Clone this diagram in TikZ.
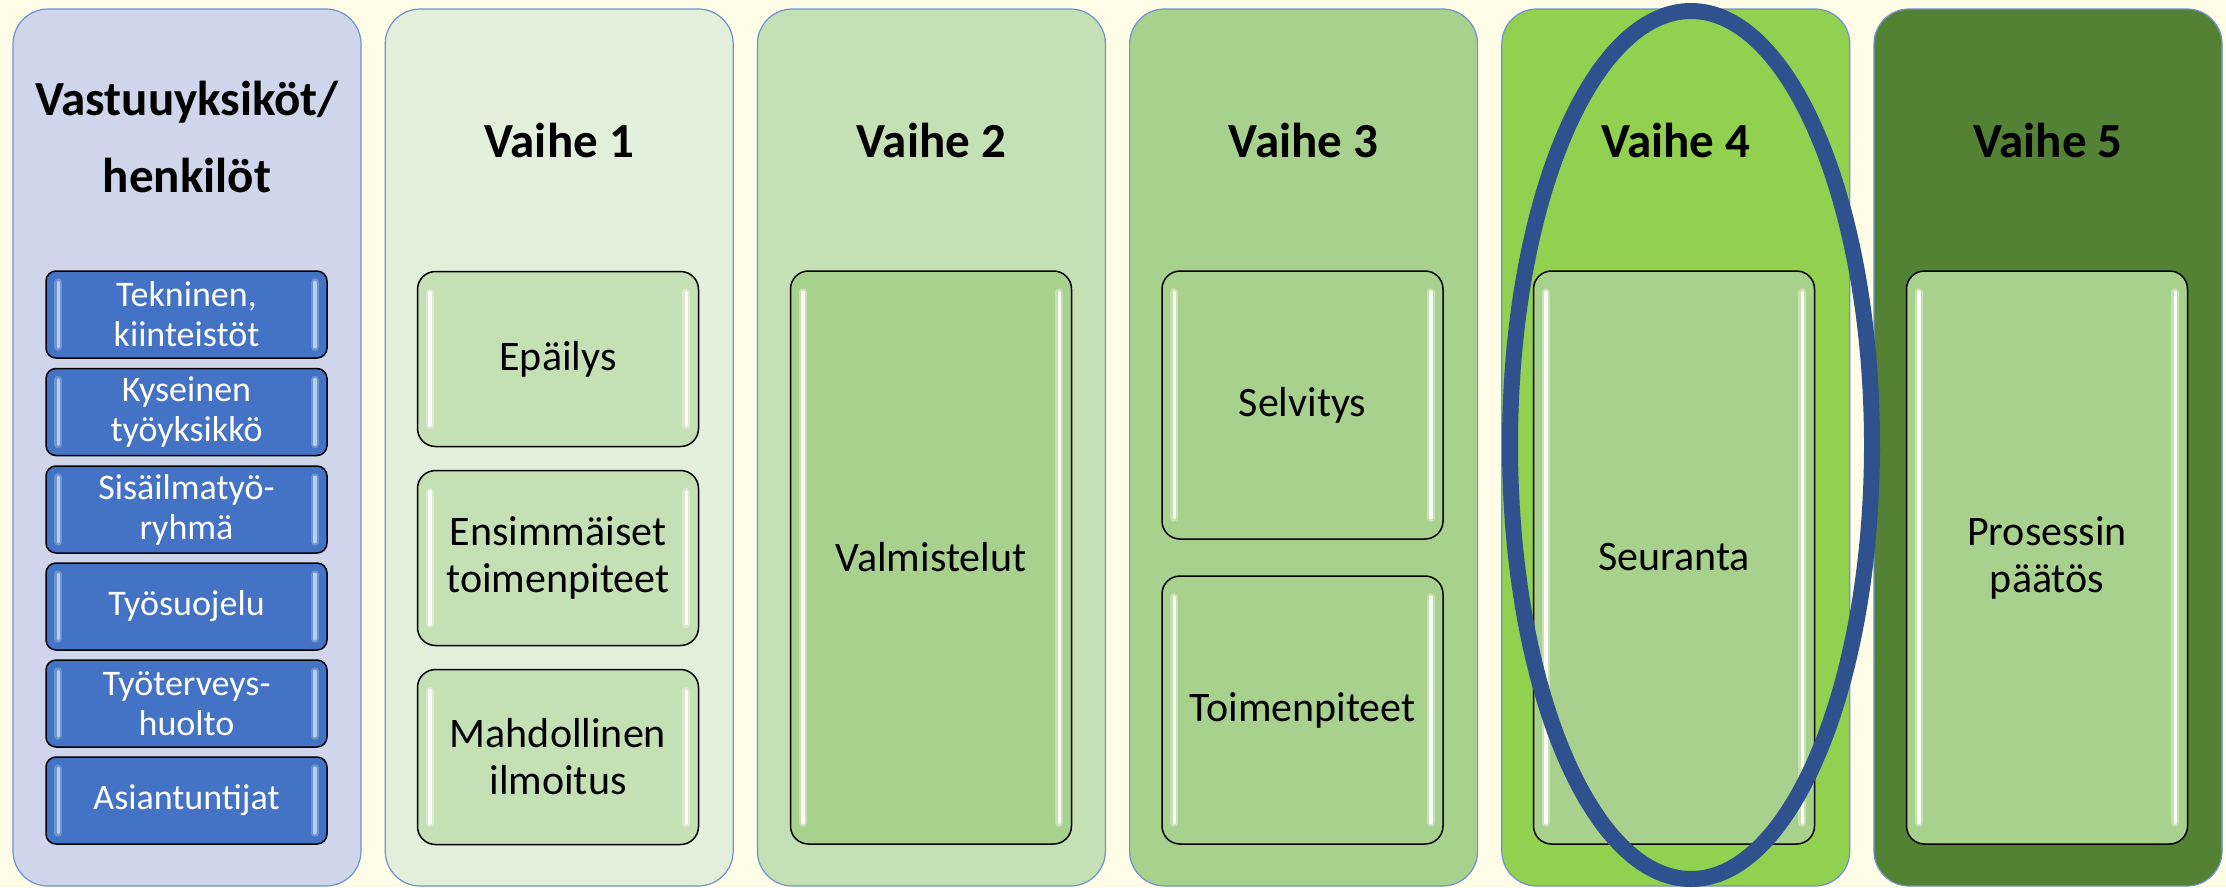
\documentclass[tikz,border=0pt]{standalone}
\usepackage{fontspec}
\setmainfont{Carlito}
\usetikzlibrary{shapes.geometric}
\definecolor{bg}{HTML}{FFFDE8}
\definecolor{colline}{HTML}{6E92CF}
\definecolor{lav}{HTML}{CFD5EA}
\definecolor{g1}{HTML}{E2EFDA}
\definecolor{g2}{HTML}{C5E0B4}
\definecolor{g3}{HTML}{A9D18E}
\definecolor{g4}{HTML}{92D050}
\definecolor{g5}{HTML}{548235}
\definecolor{boxblue}{HTML}{4472C4}
\definecolor{hlblue}{HTML}{BDD7EE}
\definecolor{ellblue}{HTML}{2F528F}
\newcommand\glossy[3]{%
  \draw[line width=8pt, #2, opacity=0.35, line cap=round]
    ([xshift=13pt,yshift=-#3]#1.north west) -- ([xshift=13pt,yshift=#3]#1.south west);
  \draw[line width=3.5pt, #2, opacity=0.9, line cap=round]
    ([xshift=13pt,yshift=-#3]#1.north west) -- ([xshift=13pt,yshift=#3]#1.south west);
  \draw[line width=8pt, #2, opacity=0.35, line cap=round]
    ([xshift=-13pt,yshift=-#3]#1.north east) -- ([xshift=-13pt,yshift=#3]#1.south east);
  \draw[line width=3.5pt, #2, opacity=0.9, line cap=round]
    ([xshift=-13pt,yshift=-#3]#1.north east) -- ([xshift=-13pt,yshift=#3]#1.south east);
}
\begin{document}
\begin{tikzpicture}[x=1pt,y=-1pt,
  colbox/.style={draw=colline, line width=1.2pt, rounded corners=35pt,
    minimum width=348pt, minimum height=877pt, inner sep=0pt},
  ttl/.style={font=\bfseries\fontsize{49}{77}\selectfont, align=center, inner sep=0pt, text=black},
  gbox/.style={draw=black, line width=1.5pt, rounded corners=18pt, fill=g3,
    minimum width=281pt, font=\fontsize{42}{47}\selectfont, align=center, inner sep=0pt},
  bbox/.style={draw=black, line width=1.5pt, rounded corners=10pt, fill=boxblue, text=white,
    minimum width=281pt, minimum height=87pt, font=\fontsize{36}{40}\selectfont,
    align=center, inner sep=0pt},
  focus/.style={draw=ellblue, ellipse, line width=16pt, minimum width=362pt,
    minimum height=868pt, inner sep=0pt}
]
\useasboundingbox (0,0) rectangle (2226,887);
\fill[bg] (0,0) rectangle (2226,887);

% columns
\node[colbox, fill=lav] (c0) at (187,447.5) {};
\node[colbox, fill=g1]  (c1) at (559.2,447.5) {};
\node[colbox, fill=g2]  (c2) at (931.4,447.5) {};
\node[colbox, fill=g3]  (c3) at (1303.6,447.5) {};
\node[colbox, fill=g4]  (c4) at (1675.8,447.5) {};
\node[colbox, fill=g5]  (c5) at (2048,447.5) {};

% titles
\node[ttl] (t0) at (187,137) {Vastuuyksiköt/\\henkilöt};
\node[ttl] (t1) at (559.2,140) {Vaihe 1};
\node[ttl] (t2) at (931.4,140) {Vaihe 2};
\node[ttl] (t3) at (1303.6,140) {Vaihe 3};
\node[ttl] (t4) at (1675.8,140) {Vaihe 4};
\node[ttl] (t5) at (2048,140) {Vaihe 5};

% blue boxes
\node[bbox] (b1) at (186.5,314.5) {Tekninen,\\kiinteistöt};
\node[bbox] (b2) at (186.5,412) {Kyseinen\\työyksikkö};
\node[bbox] (b3) at (186.5,509.5) {Sisäilmatyö-\\ryhmä};
\node[bbox] (b4) at (186.5,606.5) {Työsuojelu};
\node[bbox] (b5) at (186.5,703.5) {Työterveys-\\huolto};
\node[bbox] (b6) at (186.5,800.5) {Asiantuntijat};
\foreach \n in {b1,b2,b3,b4,b5,b6} {\glossy{\n}{hlblue}{12pt}}

% phase 1
\node[gbox, fill=g2, minimum height=175pt] (p11) at (558,359) {Epäilys};
\node[gbox, fill=g2, minimum height=175pt] (p12) at (558,558) {Ensimmäiset\\toimenpiteet};
\node[gbox, fill=g2, minimum height=175pt] (p13) at (558,757) {Mahdollinen\\ilmoitus};
% phase 2
\node[gbox, minimum height=573pt] (p21) at (931,557.5) {Valmistelut};
% phase 3
\node[gbox, minimum height=268pt] (p31) at (1302.5,405) {Selvitys};
\node[gbox, minimum height=268pt] (p32) at (1302.5,710) {Toimenpiteet};
% phase 4
\node[gbox, minimum height=573pt] (p41) at (1674,557.5) {Seuranta};
% phase 5
\node[gbox, minimum height=573pt] (p51) at (2047,557.5) {Prosessin\\päätös};
\foreach \n in {p11,p12,p13,p21,p31,p32,p41,p51} {\glossy{\n}{white}{22pt}}

% highlight ellipse
\node[focus] (hl) at (1691,445) {};
\end{tikzpicture}
\end{document}
